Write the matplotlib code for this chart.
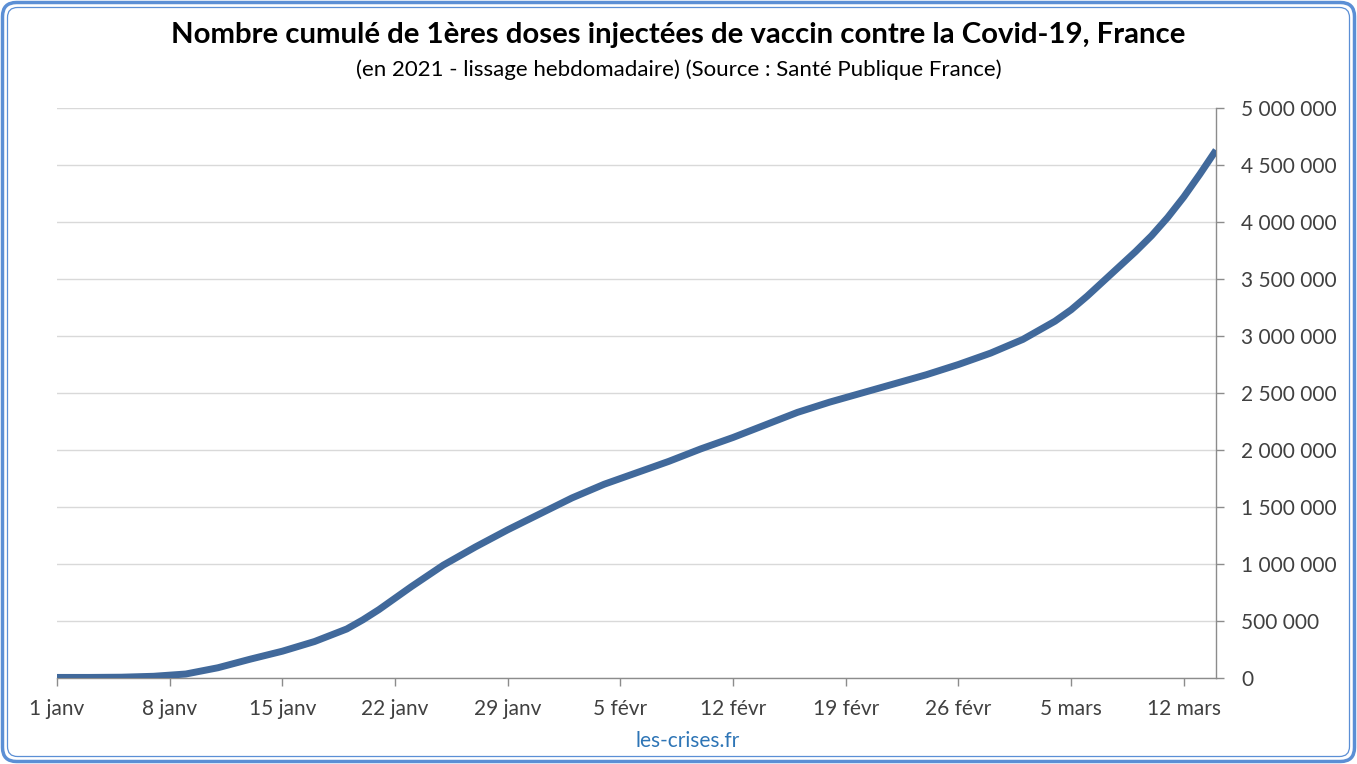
import matplotlib.pyplot as plt
from matplotlib.patches import FancyBboxPatch
from matplotlib.ticker import FuncFormatter

plt.rcParams['font.family'] = ['Lato', 'DejaVu Sans']

# days since 1 janv 2021 and cumulated first doses
days = [0, 2, 4, 6, 8, 10, 12, 14, 16, 18, 19, 20, 21, 22, 24, 26, 28, 30, 32, 34,
        36, 38, 40, 42, 44, 46, 48, 50, 52, 54, 56, 58, 60, 62, 63, 64, 65, 66, 67,
        68, 69, 70, 71, 72]
doses = [5000, 5000, 7000, 15000, 35000, 90000, 165000, 235000, 320000, 430000,
         510000, 600000, 700000, 800000, 990000, 1150000, 1300000, 1440000, 1580000,
         1700000, 1800000, 1900000, 2010000, 2110000, 2220000, 2330000, 2420000,
         2500000, 2580000, 2660000, 2750000, 2850000, 2970000, 3130000, 3230000,
         3350000, 3480000, 3610000, 3740000, 3880000, 4040000, 4220000, 4420000,
         4630000]

tick_days = [0, 7, 14, 21, 28, 35, 42, 49, 56, 63, 70]
tick_labels = ['1 janv', '8 janv', '15 janv', '22 janv', '29 janv', '5 févr',
               '12 févr', '19 févr', '26 févr', '5 mars', '12 mars']
y_ticks = [0, 500000, 1000000, 1500000, 2000000, 2500000, 3000000, 3500000,
           4000000, 4500000, 5000000]

W, H = 1357, 764
fig = plt.figure(figsize=(W / 100, H / 100), dpi=100)
fig.patch.set_facecolor('white')

ax = fig.add_axes([57 / W, 1 - 678 / H, (1216 - 57) / W, (678 - 108) / H])
ax.plot(days, doses, color='#41699B', lw=5, solid_capstyle='butt',
        solid_joinstyle='round', zorder=3)

ax.set_xlim(0, 72)
ax.set_ylim(0, 5000000)
ax.set_xticks(tick_days)
ax.set_xticklabels(tick_labels)
ax.set_yticks(y_ticks)
ax.yaxis.set_major_formatter(FuncFormatter(lambda v, p: f'{int(v):,}'.replace(',', ' ')))
ax.yaxis.tick_right()

ax.grid(axis='y', color='#D9D9D9', lw=1)
ax.set_axisbelow(True)
for s in ['left', 'top']:
    ax.spines[s].set_visible(False)
for s in ['bottom', 'right']:
    ax.spines[s].set_color('#8C8C8C')
    ax.spines[s].set_linewidth(1)
ax.tick_params(axis='both', colors='#8C8C8C', length=6, width=1, labelcolor='#404040',
               labelsize=15)
ax.tick_params(axis='x', pad=9)
ax.tick_params(axis='y', pad=12)

fig.text(0.5, 1 - 35 / H, 'Nombre cumulé de 1ères doses injectées de vaccin contre la Covid-19, France',
         ha='center', va='center', fontsize=21.2, fontweight='bold', color='black')
fig.text(0.5, 1 - 70 / H, '(en 2021 - lissage hebdomadaire) (Source : Santé Publique France)',
         ha='center', va='center', fontsize=16, color='black')
fig.text(688 / W, 1 - 741 / H, 'les-crises.fr', ha='center', va='center',
         fontsize=15, color='#2E75B6')

# rounded blue double frame
bg = fig.add_axes([0, 0, 1, 1], facecolor='none')
bg.set_xlim(0, W)
bg.set_ylim(0, H)
bg.axis('off')
bg.add_patch(FancyBboxPatch((2.5, 2.5), W - 5, H - 5, boxstyle='round,pad=0,rounding_size=14',
                            fill=False, edgecolor='#5B8FD5', lw=2.5))
bg.add_patch(FancyBboxPatch((7.5, 7.5), W - 15, H - 15, boxstyle='round,pad=0,rounding_size=10',
                            fill=False, edgecolor='#5B8FD5', lw=0.9))

fig.savefig('out.png', dpi=100)
